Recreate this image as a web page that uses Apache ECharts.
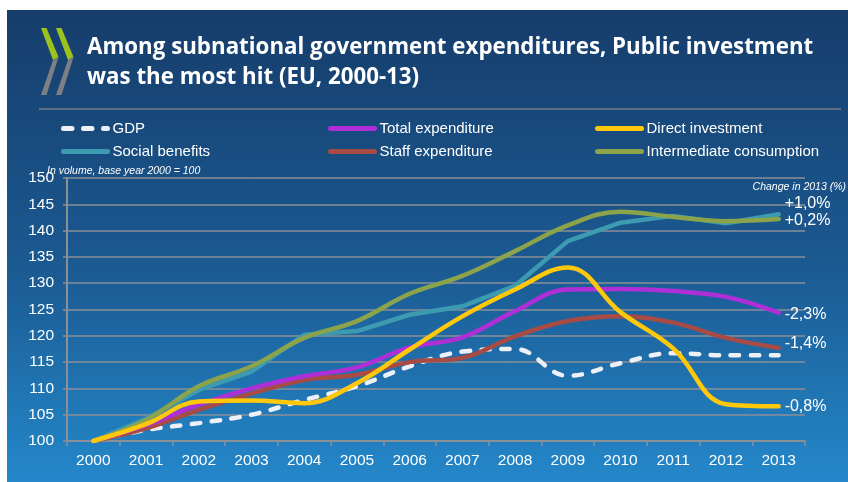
<!DOCTYPE html>
<html>
<head>
<meta charset="utf-8">
<script src="https://cdn.jsdelivr.net/npm/echarts@6/dist/echarts.min.js"></script>
<style>
  body { margin: 0; background: #fff; }
  #bg { position: absolute; left: 7px; top: 10px; width: 841px; height: 472px;
        background: linear-gradient(#163d6b, #1b5a92 55%, #2488ca); }
  #chart { position: absolute; left: 0; top: 0; width: 848px; height: 482px; }
</style>
</head>
<body>
<div id="bg"></div>
<div id="chart"></div>
<script>
var years = ['2000', '2001', '2002', '2003', '2004', '2005', '2006', '2007', '2008', '2009', '2010', '2011', '2012', '2013'];

var gdp = [100, 102.1, 103.4, 105, 107.8, 110.4, 114.2, 117, 117.5, 112.4, 114.8, 116.7, 116.3, 116.3];
var totalExpenditure = [100, 103, 106.9, 110, 112.3, 114, 117.8, 119.7, 124.7, 128.8, 128.9, 128.5, 127.4, 124.4];
var directInvestment = [100, 103.2, 107.5, 107.7, 107.2, 111, 117.4, 123.7, 128.8, 133, 124.5, 117.6, 107, 106.6];
var socialBenefits = [100, 104.2, 109.7, 113.2, 120.2, 120.9, 124, 125.6, 129.5, 138, 141.5, 142.8, 141.4, 143.1];
var staffExpenditure = [100, 102.4, 105.9, 109, 111.6, 112.6, 115, 115.8, 119.9, 122.8, 123.7, 122.5, 119.6, 117.7];
var intermediateConsumption = [100, 104, 110.4, 114.2, 119.6, 122.8, 128, 131.4, 136.1, 141, 143.6, 142.6, 141.8, 142.2];

// change in 2013, shown at the end of the lines
var change2013 = {
    'Social benefits': '+1,0%',
    'Intermediate consumption': '+0,2%',
    'Total expenditure': '-2,3%',
    'Staff expenditure': '-1,4%',
    'Direct investment': '-0,8%'
};

var myChart = echarts.init(document.getElementById('chart'));

var txt = '#ffffff';
var gridCol = '#8b8f96';

function line(name, data, color, opts) {
    var s = {
        name: name,
        type: 'line',
        data: data,
        symbol: 'none',
        smooth: 0.4,
        lineStyle: { color: color, width: 4.5, cap: 'round' },
        itemStyle: { color: color },
        animation: false
    };
    if (change2013[name]) {
        s.endLabel = {
            show: true,
            formatter: change2013[name],
            color: txt,
            fontSize: 16,
            fontFamily: 'Liberation Sans',
            distance: 6,
            offset: [0, opts.dy]
        };
    }
    if (opts.smooth === false) s.smooth = false;
    if (opts.dash) s.lineStyle.type = opts.dash;
    return s;
}

var legendText = { color: txt, fontSize: 15, fontFamily: 'Liberation Sans' };
function legendCol(left, names) {
    return {
        orient: 'vertical',
        left: left,
        top: 116,
        itemWidth: 44,
        itemHeight: 14,
        itemGap: 8,
        selectedMode: false,
        itemStyle: { opacity: 0 },
        lineStyle: { width: 5 },
        textStyle: legendText,
        data: names
    };
}

var option = {
    backgroundColor: 'transparent',
    legend: [
        legendCol(56, ['GDP', 'Social benefits']),
        legendCol(323, ['Total expenditure', 'Staff expenditure']),
        legendCol(590, ['Direct investment', 'Intermediate consumption'])
    ],
    grid: { left: 67, right: 43, top: 178, bottom: 41 },
    xAxis: {
        type: 'category',
        data: years,
        boundaryGap: true,
        axisLine: { lineStyle: { color: gridCol, width: 2 } },
        axisTick: { show: true, length: 5, lineStyle: { color: gridCol, width: 1.5 } },
        axisLabel: { color: txt, fontSize: 15.5, fontFamily: 'Liberation Sans', margin: 12 }
    },
    yAxis: {
        type: 'value',
        min: 100,
        max: 150,
        interval: 5,
        axisLine: { show: true, lineStyle: { color: gridCol, width: 2 } },
        axisTick: { show: true, length: 4, lineStyle: { color: gridCol, width: 1.5 } },
        axisLabel: { color: txt, fontSize: 15.5, fontFamily: 'Liberation Sans', margin: 13 },
        splitLine: { lineStyle: { color: gridCol, width: 1.5 } }
    },
    graphic: [
        // logo
        { type: 'polygon', shape: { points: [[41, 28], [46.5, 28], [58.5, 57], [53, 60]] }, style: { fill: '#9cc31d' } },
        { type: 'polygon', shape: { points: [[53, 60], [58.5, 57], [46.5, 95], [41, 95]] }, style: { fill: '#7c7f84' } },
        { type: 'polygon', shape: { points: [[56, 28], [61.5, 28], [73.5, 57], [68, 60]] }, style: { fill: '#9cc31d' } },
        { type: 'polygon', shape: { points: [[68, 60], [73.5, 57], [61.5, 95], [56, 95]] }, style: { fill: '#7c7f84' } },
        // title
        { type: 'text', left: 87, top: 33, style: {
            text: 'Among subnational government expenditures, Public investment\nwas the most hit (EU, 2000-13)',
            fill: txt, font: 'bold 22.3px "Open Sans"', lineHeight: 30 } },
        // separator
        { type: 'line', shape: { x1: 39, y1: 109, x2: 841, y2: 109 }, style: { stroke: '#5d6d86', lineWidth: 2 } },
        // notes
        { type: 'text', left: 47, top: 166, style: {
            text: 'In volume, base year 2000 = 100', fill: txt,
            font: 'italic 10.5px "Liberation Sans"' } },
        { type: 'text', right: 2, top: 182, style: {
            text: 'Change in 2013 (%)', fill: txt,
            font: 'italic 10.5px "Liberation Sans"' } }
    ],
    series: [
        line('GDP', gdp, '#eef0f8', { dash: [8.5, 11.5] }),
        line('Social benefits', socialBenefits, '#3c9bb0', { dy: -11, smooth: false }),
        line('Staff expenditure', staffExpenditure, '#a84b45', { dy: -4 }),
        line('Total expenditure', totalExpenditure, '#ae2fd8', { dy: 2 }),
        line('Intermediate consumption', intermediateConsumption, '#8ba34a', { dy: 2 }),
        line('Direct investment', directInvestment, '#ffc80a', { dy: 0 })
    ]
};

myChart.setOption(option);
</script>
</body>
</html>
